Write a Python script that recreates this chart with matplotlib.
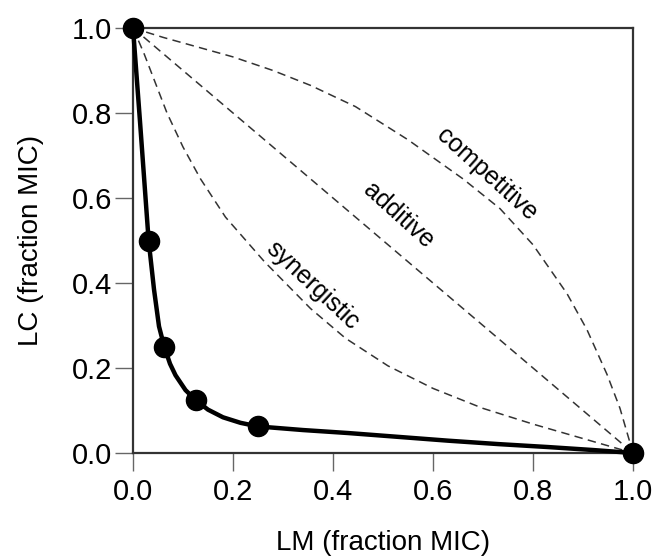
import matplotlib
matplotlib.use("Agg")
import matplotlib.pyplot as plt

plt.rcParams['font.family'] = ['Liberation Sans', 'DejaVu Sans']

# measured combinations (fraction of MIC)
lm_pts = [0.0, 0.03125, 0.0625, 0.125, 0.25, 1.0]
lc_pts = [1.0, 0.5, 0.25, 0.125, 0.0625, 0.0]

# traced isobole through the measured points
iso_x = [0, 0.014, 0.03125, 0.042, 0.052, 0.0625, 0.074, 0.085, 0.105, 0.125,
         0.15, 0.18, 0.215, 0.25, 0.34, 0.43, 0.53, 0.63, 0.73, 0.83, 0.92, 1.0]
iso_y = [1, 0.78, 0.5, 0.385, 0.298, 0.25, 0.21, 0.183, 0.148, 0.125,
         0.102, 0.084, 0.071, 0.0625, 0.054, 0.047, 0.038, 0.029, 0.021, 0.014, 0.007, 0]

# reference isoboles
add_x = [0, 1]
add_y = [1, 0]

syn_x = [0, 0.022, 0.045, 0.068, 0.1, 0.135, 0.185, 0.263, 0.355, 0.425,
         0.51, 0.6, 0.7, 0.8, 0.9, 1.0]
syn_y = [1, 0.94, 0.87, 0.8, 0.72, 0.645, 0.555, 0.45, 0.34, 0.27,
         0.205, 0.152, 0.105, 0.068, 0.034, 0]

comp_x = [0, 0.06, 0.13, 0.2, 0.28, 0.355, 0.445, 0.55, 0.66, 0.734,
          0.8, 0.868, 0.908, 0.948, 0.974, 1.0]
comp_y = [1, 0.978, 0.955, 0.932, 0.9, 0.865, 0.815, 0.737, 0.645, 0.575,
          0.49, 0.375, 0.29, 0.185, 0.105, 0]

ticks = [0.0, 0.2, 0.4, 0.6, 0.8, 1.0]

fig = plt.figure(figsize=(6.62, 5.58), dpi=100)
ax = fig.add_axes([133 / 662, 1 - 453 / 558, 500 / 662, 425 / 558])

dash = dict(color='#333333', lw=1.1, ls=(0, (5.5, 3.5)))
ax.plot(syn_x, syn_y, **dash)
ax.plot(add_x, add_y, **dash)
ax.plot(comp_x, comp_y, **dash)

ax.plot(iso_x, iso_y, color='black', lw=3.2, solid_capstyle='round',
        solid_joinstyle='round', clip_on=False, zorder=4)
ax.plot(lm_pts, lc_pts, 'o', color='black', ms=14.5, clip_on=False, zorder=5)

ax.text(0.708, 0.655, 'competitive', rotation=-42, fontsize=18,
        ha='center', va='center', rotation_mode='anchor')
ax.text(0.53, 0.56, 'additive', rotation=-42, fontsize=18,
        ha='center', va='center', rotation_mode='anchor')
ax.text(0.36, 0.395, 'synergistic', rotation=-43, fontsize=18,
        ha='center', va='center', rotation_mode='anchor')

ax.set_xlim(0, 1)
ax.set_ylim(0, 1)
ax.set_xticks(ticks)
ax.set_yticks(ticks)
ax.set_xticklabels([f'{t:.1f}' for t in ticks])
ax.set_yticklabels([f'{t:.1f}' for t in ticks])
ax.tick_params(axis='both', direction='out', length=13, width=1.0,
               color='#666666', labelsize=21)
ax.tick_params(axis='x', pad=5)
ax.tick_params(axis='y', pad=2)

for s in ax.spines.values():
    s.set_color('#333333')
    s.set_linewidth(1.6)

ax.set_xlabel('LM (fraction MIC)', fontsize=20, labelpad=17)
ax.set_ylabel('LC (fraction MIC)', fontsize=20, labelpad=20)

fig.savefig('out.png', dpi=100)
